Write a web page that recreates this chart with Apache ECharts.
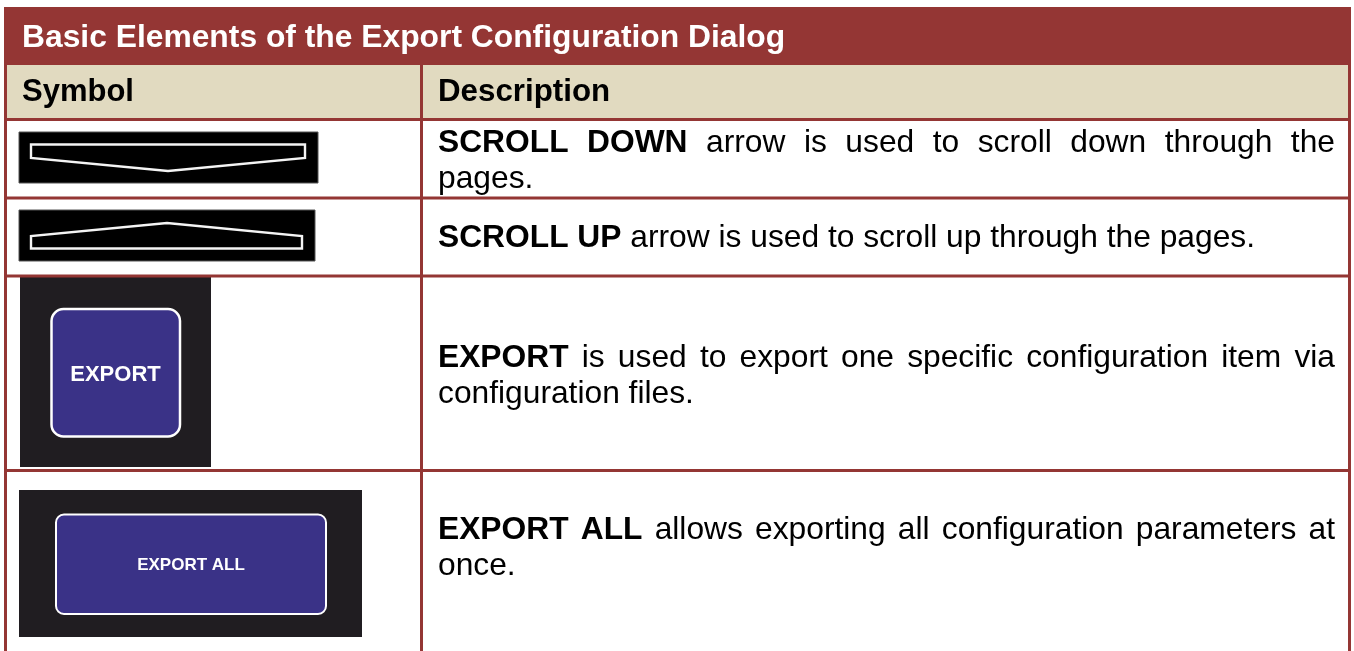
<!DOCTYPE html>
<html>
<head>
<meta charset="utf-8">
<script src="https://cdn.jsdelivr.net/npm/echarts@6/dist/echarts.min.js"></script>
<style>
html,body{margin:0;padding:0;background:#fff;}
#chart{width:1354px;height:651px;}
</style>
</head>
<body>
<div id="chart"></div>
<script>
// ---- table content ----
const tableTitle = 'Basic Elements of the Export Configuration Dialog';
const columnHeaders = ['Symbol', 'Description'];
const symbolKinds = ['scrollDown', 'scrollUp', 'export', 'exportAll'];
const buttonLabels = ['', '', 'EXPORT', 'EXPORT ALL'];
const boldTerms = ['SCROLL DOWN', 'SCROLL UP', 'EXPORT', 'EXPORT ALL'];
const descriptionLines = [
  ['SCROLL DOWN arrow is used to scroll down through the', 'pages.'],
  ['SCROLL UP arrow is used to scroll up through the pages.'],
  ['EXPORT is used to export one specific configuration item via', 'configuration files.'],
  ['EXPORT ALL allows exporting all configuration parameters at', 'once.']
];

// ---- layout / style ----
const FONT = '"Liberation Sans", Arial, sans-serif';
const RED = '#943634';
const BEIGE = '#E1DAC0';
const BODY_SIZE = 31.75;
const LEFT = 5.5, RIGHT = 1349.5, COL = 421.5;
const TITLE_TOP = 7, HEADER_TOP = 65;
const rowLinesY = [119.5, 198, 276, 470.5];   // top border of each body row
const textLeft = 438, textRight = 1335;
const rowTextY = [[143, 179], [238], [358, 394], [530, 566]];

const measureCtx = document.createElement('canvas').getContext('2d');
function textWidth(str, bold, size) {
  measureCtx.font = (bold ? 'bold ' : '') + size + 'px ' + FONT;
  return measureCtx.measureText(str).width;
}

const g = [];
// title bar & header
g.push({type: 'rect', shape: {x: LEFT, y: TITLE_TOP, width: RIGHT - LEFT, height: HEADER_TOP - TITLE_TOP}, style: {fill: RED}});
g.push({type: 'rect', shape: {x: LEFT, y: HEADER_TOP, width: RIGHT - LEFT, height: rowLinesY[0] - HEADER_TOP}, style: {fill: BEIGE}});
g.push({type: 'text', x: 22, y: 38, style: {text: tableTitle, fill: '#fff', font: 'bold 31.8px ' + FONT, verticalAlign: 'middle', align: 'left'}});
g.push({type: 'text', x: 22, y: 92.5, style: {text: columnHeaders[0], fill: '#000', font: 'bold 31px ' + FONT, verticalAlign: 'middle', align: 'left'}});
g.push({type: 'text', x: textLeft, y: 92.5, style: {text: columnHeaders[1], fill: '#000', font: 'bold 31.3px ' + FONT, verticalAlign: 'middle', align: 'left'}});

// symbols
function addSymbol(kind, label) {
  if (kind === 'scrollDown') {
    g.push({type: 'rect', shape: {x: 19, y: 132, width: 299, height: 51}, style: {fill: '#000', stroke: '#555', lineWidth: 1}});
    g.push({type: 'polygon', shape: {points: [[31, 144.5], [305, 144.5], [305, 158], [168, 171], [31, 158]]}, style: {fill: 'none', stroke: '#f4f4f4', lineWidth: 2.4}});
  } else if (kind === 'scrollUp') {
    g.push({type: 'rect', shape: {x: 19, y: 210, width: 296, height: 51}, style: {fill: '#000', stroke: '#555', lineWidth: 1}});
    g.push({type: 'polygon', shape: {points: [[31, 248.5], [302, 248.5], [302, 236], [167, 223], [31, 236]]}, style: {fill: 'none', stroke: '#f4f4f4', lineWidth: 2.4}});
  } else if (kind === 'export') {
    g.push({type: 'rect', shape: {x: 20, y: 277, width: 191, height: 190}, style: {fill: '#201d21'}});
    g.push({type: 'rect', shape: {x: 51.5, y: 309, width: 128.5, height: 127.5, r: 12}, style: {fill: '#3a3287', stroke: '#fff', lineWidth: 2.5}});
    g.push({type: 'text', x: 115.5, y: 374.5, style: {text: label, fill: '#fff', font: 'bold 22px ' + FONT, align: 'center', verticalAlign: 'middle'}});
  } else if (kind === 'exportAll') {
    g.push({type: 'rect', shape: {x: 19, y: 490, width: 343, height: 147}, style: {fill: '#201d21'}});
    g.push({type: 'rect', shape: {x: 56, y: 514.5, width: 270, height: 99.5, r: 8}, style: {fill: '#3a3287', stroke: '#fff', lineWidth: 2}});
    g.push({type: 'text', x: 191, y: 565.5, style: {text: label, fill: '#fff', font: 'bold 17px ' + FONT, align: 'center', verticalAlign: 'middle'}});
  }
}
symbolKinds.forEach((k, i) => addSymbol(k, buttonLabels[i]));

// descriptions (justified except last line)
descriptionLines.forEach((lines, r) => {
  const boldCount = boldTerms[r].split(' ').length;
  let wordIndex = 0;
  lines.forEach((line, li) => {
    const words = line.split(' ');
    const items = words.map((w) => {
      const bold = wordIndex < boldCount; wordIndex++;
      return {w, bold, width: textWidth(w, bold, BODY_SIZE)};
    });
    const isLast = li === lines.length - 1;
    const total = items.reduce((s, it) => s + it.width, 0);
    const normalSpace = textWidth(' ', false, BODY_SIZE);
    const gap = (!isLast && items.length > 1) ? (textRight - textLeft - total) / (items.length - 1) : normalSpace;
    let x = textLeft;
    items.forEach((it) => {
      g.push({type: 'text', x: x, y: rowTextY[r][li], style: {text: it.w, fill: '#000', font: (it.bold ? 'bold ' : '') + BODY_SIZE + 'px ' + FONT, align: 'left', verticalAlign: 'middle'}});
      x += it.width + gap;
    });
  });
});

// borders
const lineStyle = {stroke: RED, lineWidth: 3};
g.push({type: 'line', shape: {x1: LEFT, y1: TITLE_TOP, x2: LEFT, y2: 651}, style: lineStyle});
g.push({type: 'line', shape: {x1: RIGHT, y1: TITLE_TOP, x2: RIGHT, y2: 651}, style: lineStyle});
g.push({type: 'line', shape: {x1: COL, y1: HEADER_TOP, x2: COL, y2: 651}, style: lineStyle});
rowLinesY.forEach((y) => g.push({type: 'line', shape: {x1: LEFT, y1: y, x2: RIGHT, y2: y}, style: lineStyle}));

const chart = echarts.init(document.getElementById('chart'), null, {renderer: 'canvas'});
chart.setOption({backgroundColor: '#fff', animation: false, graphic: g});
</script>
</body>
</html>
